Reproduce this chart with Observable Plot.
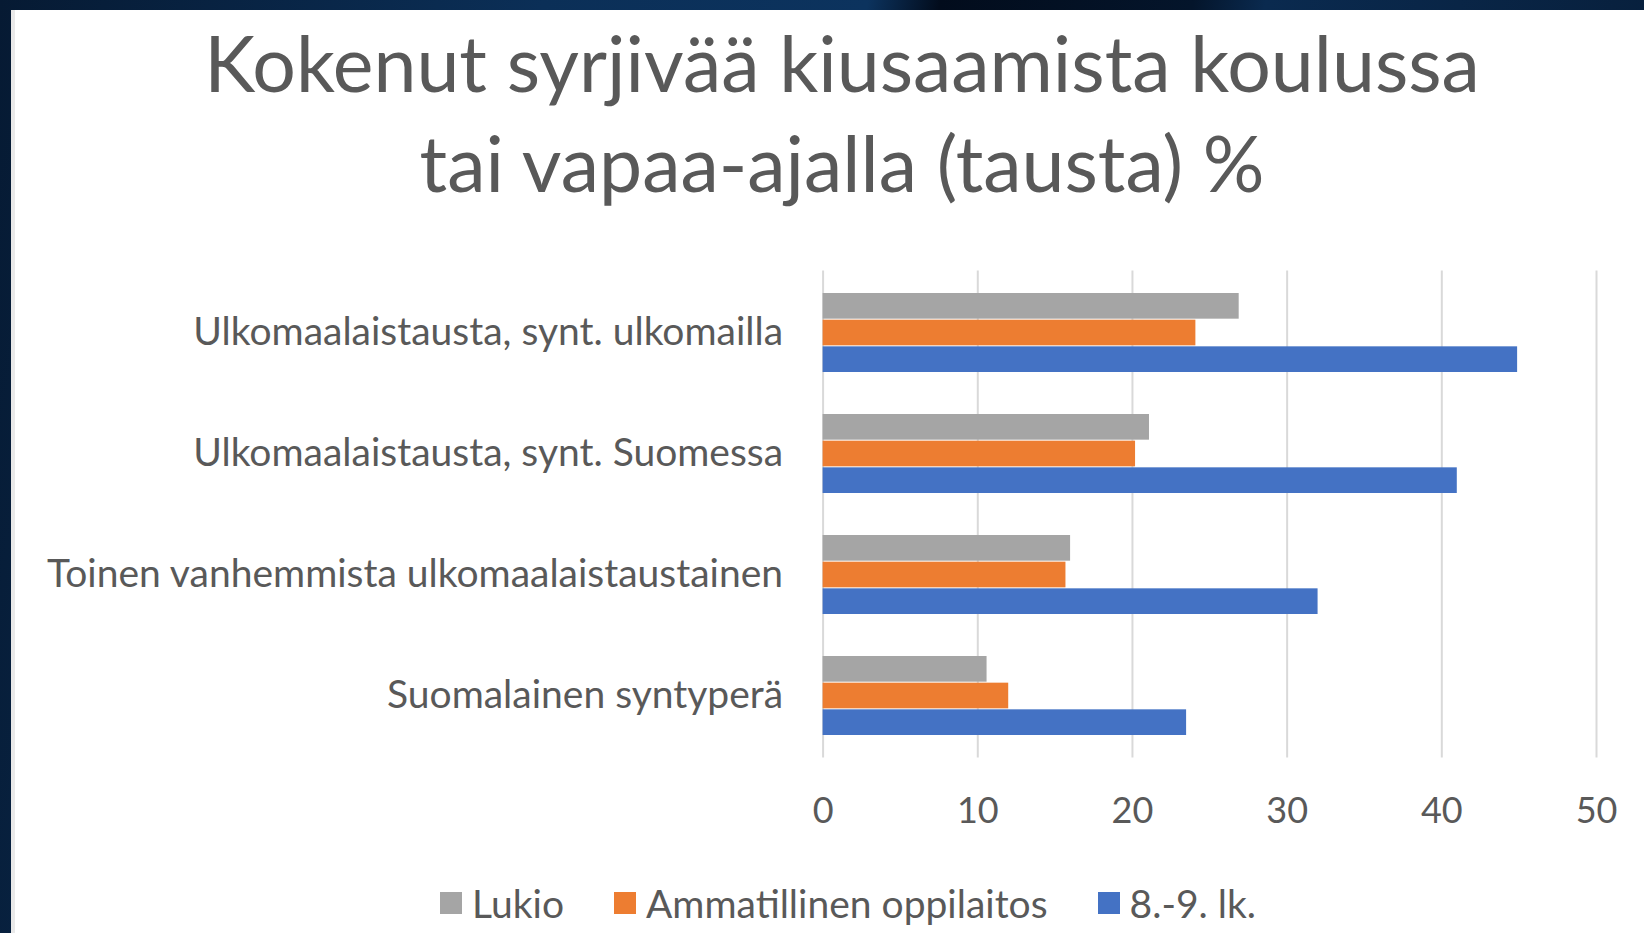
<!DOCTYPE html>
<html>
<head>
<meta charset="utf-8">
<script src="https://cdn.jsdelivr.net/npm/d3@7"></script>
<script src="https://cdn.jsdelivr.net/npm/@observablehq/plot@0.6"></script>
<style>
  html, body { margin: 0; padding: 0; }
  body {
    width: 1644px; height: 933px; overflow: hidden; position: relative;
    background: linear-gradient(100deg, #061a33 0%, #0b2f57 30%, #0c335e 48%, #020c1c 52%, #04152b 66%, #0a2a4f 70%, #071c36 100%);
    font-family: Lato, "Open Sans", sans-serif;
  }
  #panel {
    position: absolute; left: 11px; top: 10px; right: 0; bottom: 0;
    background: #ffffff; border-left: 4px solid #e9e9e9;
  }
  #title {
    position: absolute; left: 0; width: 1684px; top: 12px;
    text-align: center; color: #595959; font-size: 77px; line-height: 100px;
    font-family: Lato, sans-serif;
  }
  #chart { position: absolute; left: 0; top: 250px; }
  #chart g[aria-label="y-axis"] text,
  #chart g[aria-label="y-axis tick label"] text { font-size: 39px; }
  #legend {
    position: absolute; top: 880px; left: 26px; width: 1644px; height: 46px;
    display: flex; justify-content: center; align-items: center;
    color: #595959; font-size: 39px; font-family: Lato, sans-serif;
  }
  .item { display: flex; align-items: center; margin: 0 25px; }
  .sw { width: 22px; height: 22px; margin-right: 10px; }
</style>
</head>
<body>
<div id="panel"></div>
<div id="title">Kokenut syrjivää kiusaamista koulussa<br>tai vapaa-ajalla (tausta) %</div>
<div id="chart"></div>
<div id="legend"></div>
<script>
const categories = [
  "Ulkomaalaistausta, synt. ulkomailla",
  "Ulkomaalaistausta, synt. Suomessa",
  "Toinen vanhemmista ulkomaalaistaustainen",
  "Suomalainen syntyperä"
];
const series = ["Lukio", "Ammatillinen oppilaitos", "8.-9. lk."];
const lukio = [26.9, 21.1, 16.0, 10.6];
const ammatillinen = [24.1, 20.2, 15.7, 12.0];
const lk89 = [44.9, 41.0, 32.0, 23.5];
const xTicks = [0, 10, 20, 30, 40, 50];
const colors = ["#A5A5A5", "#ED7D31", "#4472C4"];

const values = [lukio, ammatillinen, lk89];
const rows = series.flatMap((s, i) => categories.map((c, j) => ({category: c, series: s, value: values[i][j]})));

const W = 1644, H = 600;
const mTop = 20.5, mBottom = 92.5, mLeft = 822.6, mRight = 48;
const pIn = 0.343, pOut = 0.1715;
const step = (H - mTop - mBottom) / (categories.length - pIn + 2 * pOut);
const bw = step * (1 - pIn);
const third = bw / series.length;

const barMarks = series.map((s, i) => Plot.barX(rows.filter(d => d.series === s), {
  x: "value", y: "category", fill: "series",
  insetTop: i * third, insetBottom: (series.length - 1 - i) * third
}));

const plot = Plot.plot({
  width: W, height: H,
  marginTop: mTop, marginBottom: mBottom, marginLeft: mLeft, marginRight: mRight,
  style: {fontFamily: "Lato, sans-serif", fontSize: "36px", color: "#595959", background: "transparent", overflow: "visible"},
  x: {domain: [0, 50], ticks: xTicks, tickSize: 0, tickPadding: 39, tickFormat: d => String(d), label: null},
  y: {domain: categories, type: "band", paddingInner: pIn, paddingOuter: pOut, tickSize: 0, tickPadding: 40, label: null},
  color: {domain: series, range: colors},
  marks: [
    Plot.ruleX(xTicks, {stroke: "#D9D9D9", strokeWidth: 2}),
    ...barMarks
  ]
});
document.getElementById("chart").appendChild(plot);

const legend = document.getElementById("legend");
series.forEach((s, i) => {
  const item = document.createElement("div");
  item.className = "item";
  const sw = document.createElement("div");
  sw.className = "sw";
  sw.style.background = colors[i];
  const t = document.createElement("span");
  t.textContent = s;
  item.appendChild(sw); item.appendChild(t);
  legend.appendChild(item);
});
</script>
</body>
</html>
